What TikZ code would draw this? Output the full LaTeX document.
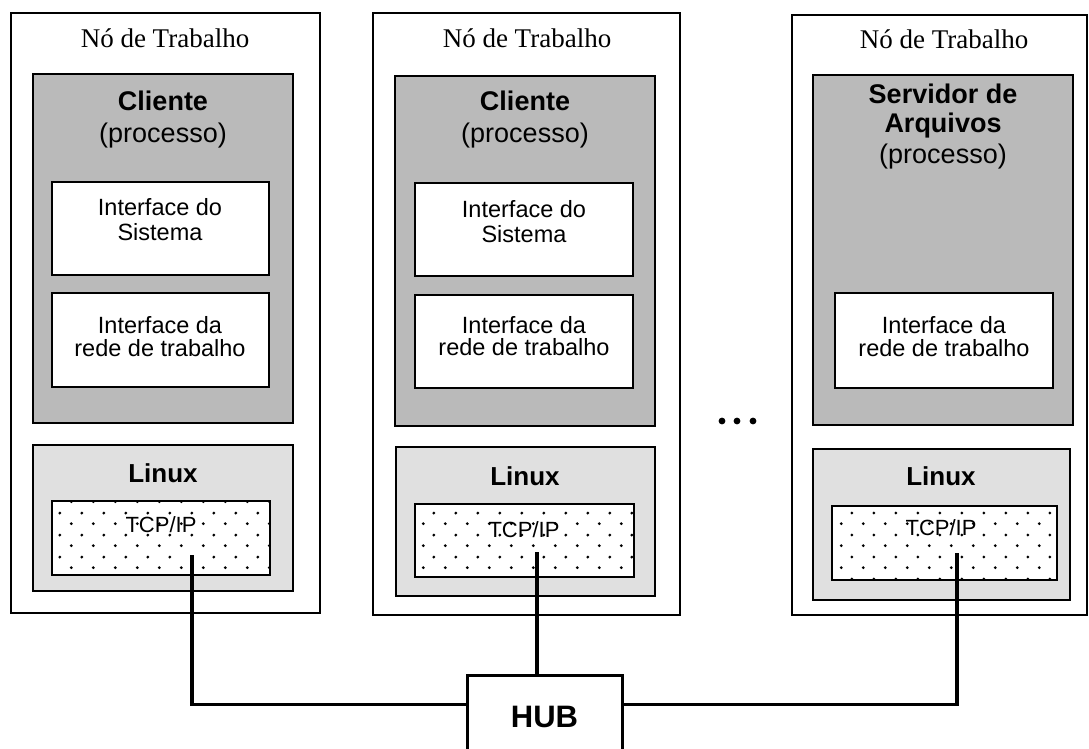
\documentclass[tikz,border=0pt]{standalone}
\usepackage{fontspec}
\setmainfont{Liberation Serif}
\setsansfont{Liberation Sans}
\usetikzlibrary{fit,calc,patterns.meta}

% sparse staggered dots used for the TCP/IP layer
\tikzdeclarepattern{
  name=tcpdots,
  bottom left={(0pt,0pt)},
  top right={(22pt,22pt)},
  tile size={(22pt,22pt)},
  code={
    \tikzset{x=1pt,y=1pt}
    \fill (5.5,5.5) circle (1.6);
    \fill (16.5,16.5) circle (1.6);
  }
}

\begin{document}
\begin{tikzpicture}[x=1pt,y=-1pt,
  frame/.style={draw, line width=1.6pt, inner sep=0pt, outer sep=0pt},
  procbox/.style={draw, line width=2.8pt, fill=black!27, inner sep=0pt},
  osbox/.style={draw, line width=2.8pt, fill=black!12, inner sep=0pt},
  ifbox/.style={draw, line width=2.8pt, fill=white, inner sep=0pt},
  tcpbox/.style={draw, line width=2.5pt, preaction={fill=white}, pattern=tcpdots, pattern color=black, inner sep=0pt},
  hubbox/.style={draw, line width=3pt, fill=white, inner sep=0pt},
  nodelabel/.style={font=\rmfamily\fontsize{27}{32}\selectfont, anchor=base, inner sep=0pt},
  procname/.style={font=\sffamily\bfseries\fontsize{27}{31}\selectfont, anchor=base, inner sep=0pt},
  proclabel/.style={font=\sffamily\fontsize{27}{31}\selectfont, anchor=base, inner sep=0pt},
  iflabel/.style={font=\sffamily\fontsize{23.5}{25}\selectfont, anchor=base, inner sep=0pt},
  oslabel/.style={font=\sffamily\bfseries\fontsize{26}{30}\selectfont, anchor=base, inner sep=0pt},
  tcplabel/.style={font=\sffamily\fontsize{22}{26}\selectfont, anchor=base, inner sep=0pt},
  hublabel/.style={font=\sffamily\bfseries\fontsize{31}{36}\selectfont, anchor=base, inner sep=0pt},
  wire/.style={line width=3.6pt},
]
\useasboundingbox (0,0) rectangle (1089,748);
\clip (0,0) rectangle (1089,748);

% ---------- first client workstation ----------
\node (outerA) [frame,   fit={(11,13) (320,613)}] {};
\node (procA)  [procbox, fit={(33,74) (293,423)}] {};
\node (sysA)   [ifbox,   fit={(52,182) (269,275)}] {};
\node (netA)   [ifbox,   fit={(52,293) (269,387)}] {};
\node (osA)    [osbox,   fit={(33,445) (293,591)}] {};
\node (tcpA)   [tcpbox,  fit={(52,501) (270,575)}] {};
\node (titleA) [nodelabel] at (165,47) {Nó de Trabalho};
\node (cliA)   [procname]  at (163,110) {Cliente};
\node (prcA)   [proclabel] at (163,142) {(processo)};
\node (sysA1)  [iflabel] at (160,215) {Interface do};
\node (sysA2)  [iflabel] at (160,240) {Sistema};
\node (netA1)  [iflabel] at (160,333) {Interface da};
\node (netA2)  [iflabel] at (160,356) {rede de trabalho};
\node (linA)   [oslabel] at (163,482) {Linux};
\node (ipA)    [tcplabel] at (161,532) {TCP/IP};

% ---------- second client workstation ----------
\node (outerB) [frame,   fit={(373,13) (680,615)}] {};
\node (procB)  [procbox, fit={(395,76) (655,426)}] {};
\node (sysB)   [ifbox,   fit={(415,183) (633,276)}] {};
\node (netB)   [ifbox,   fit={(415,295) (633,388)}] {};
\node (osB)    [osbox,   fit={(396,447) (655,596)}] {};
\node (tcpB)   [tcpbox,  fit={(415,504) (634,577)}] {};
\node (titleB) [nodelabel] at (527,47) {Nó de Trabalho};
\node (cliB)   [procname]  at (525,110) {Cliente};
\node (prcB)   [proclabel] at (525,142) {(processo)};
\node (sysB1)  [iflabel] at (524,217) {Interface do};
\node (sysB2)  [iflabel] at (524,242) {Sistema};
\node (netB1)  [iflabel] at (524,333) {Interface da};
\node (netB2)  [iflabel] at (524,355) {rede de trabalho};
\node (linB)   [oslabel] at (525,485) {Linux};
\node (ipB)    [tcplabel] at (524,537) {TCP/IP};

% ---------- file server workstation ----------
\node (outerC) [frame,   fit={(792,15) (1087,615)}] {};
\node (procC)  [procbox, fit={(813,75) (1073,425)}] {};
\node (netC)   [ifbox,   fit={(835,293) (1053,388)}] {};
\node (osC)    [osbox,   fit={(813,449) (1070,600)}] {};
\node (tcpC)   [tcpbox,  fit={(832,506) (1057,580)}] {};
\node (titleC) [nodelabel] at (944,48) {Nó de Trabalho};
\node (srvC1)  [procname]  at (943,103) {Servidor de};
\node (srvC2)  [procname]  at (943,132) {Arquivos};
\node (prcC)   [proclabel] at (943,163) {(processo)};
\node (netC1)  [iflabel] at (944,333) {Interface da};
\node (netC2)  [iflabel] at (944,356) {rede de trabalho};
\node (linC)   [oslabel] at (941,485) {Linux};
\node (ipC)    [tcplabel] at (941,535) {TCP/IP};

% ellipsis between the workstations
\foreach \dx in {722,737,753} \fill (\dx,421) circle (3.4);

% ---------- hub and cabling ----------
\node (hub) [hubbox, fit={(467,675) (622,775)}] {};
\node (hubtext) [hublabel] at (544.5,727) {HUB};

\coordinate (portA) at (192,555);
\coordinate (portB) at (537,552);
\coordinate (portC) at (957,553);

\draw[wire] (portA) |- ($(hub.north west)!0.3!(hub.south west)$);
\draw[wire] (portB) -- (portB |- hub.north);
\draw[wire] (portC) |- ($(hub.north east)!0.3!(hub.south east)$);
\end{tikzpicture}
\end{document}
